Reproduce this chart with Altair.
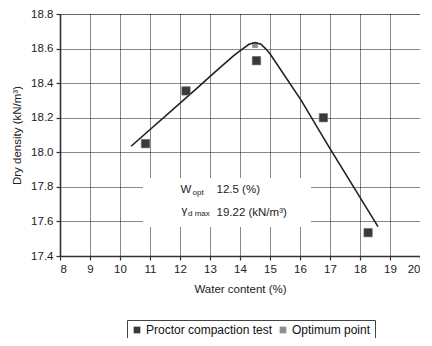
import altair as alt
import pandas as pd

# Proctor compaction test points
proctor_x = [10.85, 12.2, 14.55, 16.78, 18.27]
proctor_y = [18.05, 18.355, 18.53, 18.2, 17.535]

# Optimum point
opt_x = [14.5]
opt_y = [18.62]

# Fitted compaction curve
curve_x = [10.37, 12.56, 13.2, 13.8, 14.1, 14.3, 14.5, 14.7, 14.85, 15.0, 16.04, 16.97, 18.6]
curve_y = [18.035, 18.37, 18.47, 18.56, 18.60, 18.625, 18.635, 18.625, 18.60, 18.57, 18.30, 18.03, 17.57]

series_names = ["Proctor compaction test", "Optimum point"]
series_colors = ["#3a3a3a", "#8e8e8e"]

x_ticks = list(range(8, 21))
y_ticks = [17.4, 17.6, 17.8, 18.0, 18.2, 18.4, 18.6, 18.8]

FONT = "Liberation Sans"

pts = pd.DataFrame({"w": proctor_x, "d": proctor_y, "series": series_names[0]})
opt = pd.DataFrame({"w": opt_x, "d": opt_y, "series": series_names[1]})
curve = pd.DataFrame({"w": curve_x, "d": curve_y})

xscale = alt.Scale(domain=[8, 20], nice=False, zero=False)
yscale = alt.Scale(domain=[17.4, 18.8], nice=False, zero=False)
color = alt.Color(
    "series:N",
    scale=alt.Scale(domain=series_names, range=series_colors),
    legend=alt.Legend(
        title=None, orient="none", legendX=67, legendY=306, direction="horizontal",
        symbolType="square", symbolSize=45, symbolStrokeWidth=0,
        labelFont=FONT, labelFontSize=12, labelColor="#111",
        strokeColor="#444", padding=4, columnPadding=4, labelOffset=3,
        fillColor="white",
    ),
)

xenc = alt.X("w:Q", scale=xscale, title="Water content (%)",
             axis=alt.Axis(values=x_ticks, format="d", titlePadding=9))
yenc = alt.Y("d:Q", scale=yscale, title="Dry density (kN/m³)",
             axis=alt.Axis(values=y_ticks, format=".1f", titlePadding=8))

one = pd.DataFrame({"k": [0]})

box = alt.Chart(one).mark_rect(color="white").encode(
    x=alt.value(83), x2=alt.value(251), y=alt.value(164), y2=alt.value(213)
)

def txt(s, x, y, size=11.5):
    return alt.Chart(one).mark_text(
        text=s, align="left", baseline="middle", font=FONT, fontSize=size, color="#222"
    ).encode(x=alt.value(x), y=alt.value(y))

labels = (
    txt("W", 120.5, 176) + txt("opt", 132.5, 179, 8) + txt("12.5 (%)", 156.5, 176)
    + txt("γ", 121.5, 197) + txt("d max", 128, 200, 8) + txt("19.22 (kN/m³)", 156.5, 198.5)
)

line = alt.Chart(curve).mark_line(color="#222", strokeWidth=1.6).encode(x=xenc, y=yenc)

proctor = alt.Chart(pts).mark_point(shape="square", filled=True, size=70, opacity=1,
                                    stroke="#666", strokeWidth=0.6).encode(x=xenc, y=yenc, color=color)
optimum = alt.Chart(opt).mark_point(shape="square", filled=True, size=32, opacity=1).encode(
    x=xenc, y=yenc, color=color)

chart = alt.layer(box, optimum, line, proctor, labels).properties(
    width=360, height=242,
    autosize=alt.AutoSizeParams(type="none"),
    padding={"left": 52, "top": 6, "right": 0, "bottom": 82},
).configure_view(stroke="#b5b5b5", strokeWidth=1).configure_axis(
    grid=True, gridColor="#111", gridDash=[1, 1], gridWidth=1, gridOpacity=1,
    domainColor="#333", domainWidth=1.6, tickColor="#333", tickSize=4, tickWidth=1.2,
    labelFont=FONT, labelFontSize=11.5, labelColor="#222", labelPadding=3,
    titleFont=FONT, titleFontSize=11.5, titleFontWeight="normal", titleColor="#222",
)

chart.save("out.html", embed_options={"renderer": "svg", "actions": False})
